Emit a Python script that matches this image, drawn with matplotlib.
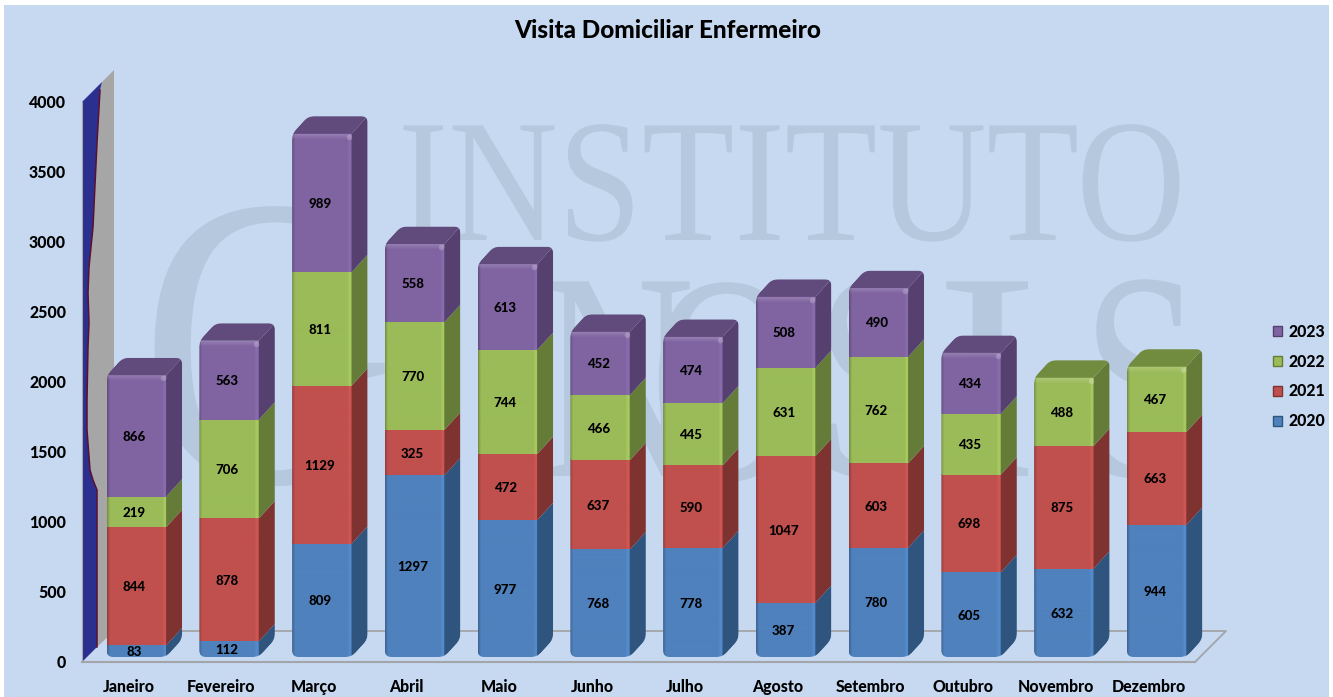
#!/usr/bin/env python3
"""Visita Domiciliar Enfermeiro - colunas empilhadas com efeito 3D."""

import numpy as np
import matplotlib
matplotlib.use("Agg")
import matplotlib.pyplot as plt
from matplotlib.patches import Patch, Polygon, Rectangle
from matplotlib.path import Path
from matplotlib.patheffects import AbstractPathEffect
from matplotlib.transforms import Affine2D, IdentityTransform

months = ["Janeiro", "Fevereiro", "Março", "Abril", "Maio", "Junho", "Julho",
          "Agosto", "Setembro", "Outubro", "Novembro", "Dezembro"]
years = ["2020", "2021", "2022", "2023"]
v2020 = [83, 112, 809, 1297, 977, 768, 778, 387, 780, 605, 632, 944]
v2021 = [844, 878, 1129, 325, 472, 637, 590, 1047, 603, 698, 875, 663]
v2022 = [219, 706, 811, 770, 744, 466, 445, 631, 762, 435, 488, 467]
v2023 = [866, 563, 989, 558, 613, 452, 474, 508, 490, 434, 0, 0]
yticks = [0, 500, 1000, 1500, 2000, 2500, 3000, 3500, 4000]

front_colors = ["#4F81BD", "#C0504D", "#9BBB59", "#8064A2"]
side_colors = ["#2F547E", "#7F3331", "#657C38", "#55406F"]
top_colors = ["#3A6595", "#97403D", "#728C3F", "#614A7C"]

W, H = 1333, 697
BG = "#C6D9F1"
WATER = "#B6C8DE"
GREY = "#A3A5A8"
FONT = "Lato"
WEIGHT = 900

# image pixels (y downwards) -> display
px = Affine2D().scale(1, -1).translate(0, H)


class SquashX(AbstractPathEffect):
    """Comprime o texto na horizontal a partir de x0 (marca d'água estreita)."""

    def __init__(self, sx, x0):
        super().__init__()
        self.sx = sx
        self.x0 = x0

    def draw_path(self, renderer, gc, tpath, affine, rgbFace):
        squash = Affine2D().translate(-self.x0, 0).scale(self.sx, 1).translate(self.x0, 0)
        renderer.draw_path(gc, tpath, affine + squash, rgbFace)


def rounded_path(pts, r):
    """Polígono fechado com cantos arredondados (coordenadas de tela)."""
    verts, codes = [], []
    n = len(pts)
    for k in range(n):
        p = np.array(pts[k], float)
        a = np.array(pts[k - 1], float)
        b = np.array(pts[(k + 1) % n], float)
        p1 = p + r * (a - p) / np.linalg.norm(a - p)
        p2 = p + r * (b - p) / np.linalg.norm(b - p)
        verts += [p1, p, p2]
        codes += [Path.MOVETO if k == 0 else Path.LINETO, Path.CURVE3, Path.CURVE3]
    verts.append(verts[0])
    codes.append(Path.CLOSEPOLY)
    return Path(verts, codes)


def shade(color, factors):
    rgb = np.array(matplotlib.colors.to_rgb(color))
    return np.clip(np.outer(factors, rgb), 0, 1)[np.newaxis, :, :]


fig = plt.figure(figsize=(W / 100, H / 100), dpi=100, facecolor="white")
fig.add_artist(Rectangle((4, 5), W - 8, H - 5, transform=px, facecolor=BG,
                         edgecolor="none", zorder=-5))

ax = fig.add_axes([82 / W, (H - 662) / H, 1113 / W, 560 / H])
ax.patch.set_visible(False)
ax.set_xlim(-0.5, 11.5)
ax.set_ylim(0, 4000)
ax.set_autoscale_on(False)
ppx = 1113 / 12
ppy = 560 / 4000

# marca d'água
for txt, x0, y0, size, sx in [("INSTITUTO", 398, 240, 126, 0.865),
                              ("G", 140, 482, 300, 0.85),
                              ("N", 540, 476, 214, 0.72),
                              ("O", 650, 479, 214, 0.72),
                              ("S", 815, 476, 214, 0.72),
                              ("I", 935, 476, 214, 1.05),
                              ("S", 1082, 476, 214, 0.72)]:
    t = ax.text(x0, y0, txt, transform=px, family="Liberation Serif", fontsize=size,
                color=WATER, ha="left", va="baseline", clip_on=False, zorder=0.2)
    t.set_path_effects([SquashX(sx, x0)])

# chão
ax.plot([114, 1226, 1195], [631, 631, 662], transform=px, color=GREY, lw=1.3,
        clip_on=False, zorder=0.5)

# parede do eixo y
edge = [(100, 90), (97, 143), (93, 227), (89, 267), (88, 293), (89, 323), (88, 347),
        (87, 400), (87, 430), (90, 470), (93, 480), (97, 490), (97, 647)]
ax.add_patch(Polygon([(102, 82), (114, 70), (114, 631), (97, 647)] + edge[::-1][1:],
                     closed=True, transform=px, facecolor="#A6A6A6", edgecolor="none",
                     zorder=0.6, clip_on=False))
ax.add_patch(Polygon([(82, 102), (102, 82)] + edge + [(82, 662)],
                     closed=True, transform=px, facecolor="#2B2F8F", edgecolor="none",
                     zorder=0.7, clip_on=False))
ax.plot(*zip(*edge), transform=px, color="#5A1030", lw=1.1, zorder=0.8, clip_on=False)

# barras
bar_tr = ax.transData + Affine2D().translate(8, 5)
text_tr = bar_tr + Affine2D().translate(-2, -1)
width = 59.5 / ppx
dx, dy = 16 / ppx, 17.5 / ppy
edge_shade = np.ones(60)
edge_shade[:3] = [0.78, 0.88, 0.95]
edge_shade[-4:] = [1.04, 1.07, 1.07, 1.0]
series = [v2020, v2021, v2022, v2023]

for i in range(len(months)):
    x0, x1 = i - width / 2, i + width / 2
    total = sum(s[i] for s in series)
    outline = bar_tr.transform([(x0, 0), (x1, 0), (x1 + dx, dy), (x1 + dx, total + dy),
                                (x0 + dx, total + dy), (x0, total)])
    clip = rounded_path(outline, 6.5)

    bottom = 0
    last = 0
    for k, s in enumerate(series):
        v = s[i]
        if v == 0:
            continue
        top = bottom + v
        last = k
        im = ax.imshow(shade(front_colors[k], edge_shade), extent=(x0, x1, bottom, top),
                       aspect="auto", interpolation="bilinear", transform=bar_tr, zorder=2)
        side = ax.add_patch(Polygon([(x1, bottom), (x1 + dx, bottom + dy), (x1 + dx, top + dy), (x1, top)],
                                    closed=True, transform=bar_tr, facecolor=side_colors[k],
                                    edgecolor="none", zorder=2))
        for art in (im, side):
            art.set_clip_path(clip, IdentityTransform())
            art.set_clip_box(fig.bbox)
        ax.text(i, bottom + v / 2, str(v), transform=text_tr, ha="center", va="center",
                family=FONT, fontweight=WEIGHT, fontsize=9.5, color="black", zorder=3)
        bottom = top

    top_face = ax.add_patch(Polygon([(x0, total), (x1, total), (x1 + dx, total + dy), (x0 + dx, total + dy)],
                                    closed=True, transform=bar_tr, facecolor=top_colors[last],
                                    edgecolor="none", zorder=2.1))
    top_face.set_clip_path(clip, IdentityTransform())
    top_face.set_clip_box(fig.bbox)

    # brilho na aresta superior da face frontal
    glow = np.ones((6, 2, 4))
    glow[:, :, 3] = np.linspace(0.16, 0, 6)[:, np.newaxis]
    gl = ax.imshow(glow, extent=(x0, x1, total - 6 / ppy, total), aspect="auto",
                   interpolation="bilinear", transform=bar_tr, zorder=2.2)
    gl.set_clip_path(clip, IdentityTransform())
    gl.set_clip_box(fig.bbox)
    ax.plot([x1 - 3 / ppx], [total - 3 / ppy], "o", transform=bar_tr, ms=4, mew=0,
            color="white", alpha=0.2, zorder=2.3, clip_on=False)

# eixos
ax.set_xticks(range(len(months)))
ax.set_xticklabels(months)
ax.set_yticks(yticks)
ax.tick_params(axis="y", length=0, pad=11.5)
ax.tick_params(axis="x", length=0, pad=12.5)
for lab in ax.get_xticklabels() + ax.get_yticklabels():
    lab.set_family(FONT)
    lab.set_fontweight(WEIGHT)
    lab.set_fontsize(11.4)
    lab.set_color("black")
ax.spines["top"].set_visible(False)
ax.spines["right"].set_visible(False)
ax.spines["left"].set_color(GREY)
ax.spines["bottom"].set_color(GREY)
ax.spines["bottom"].set_linewidth(1.5)
ax.spines["left"].set_zorder(1)
ax.spines["bottom"].set_zorder(1)

fig.text(668 / W, 1 - 31 / H, "Visita Domiciliar Enfermeiro", ha="center", va="center",
         family=FONT, fontweight=WEIGHT, fontsize=17.5, color="black")

# legenda
handles = [Patch(facecolor=front_colors[k], edgecolor=side_colors[k], lw=1.0, label=years[k])
           for k in range(3, -1, -1)]
leg = ax.legend(handles=handles, loc="center left", bbox_to_anchor=(1273 / W, 1 - 376.5 / H),
                bbox_transform=fig.transFigure, frameon=False, handlelength=0.55, handleheight=0.55,
                handletextpad=0.45, labelspacing=0.88, borderpad=0, borderaxespad=0,
                prop={"family": FONT, "weight": WEIGHT, "size": 11.4})

fig.savefig("out.png", dpi=100)
